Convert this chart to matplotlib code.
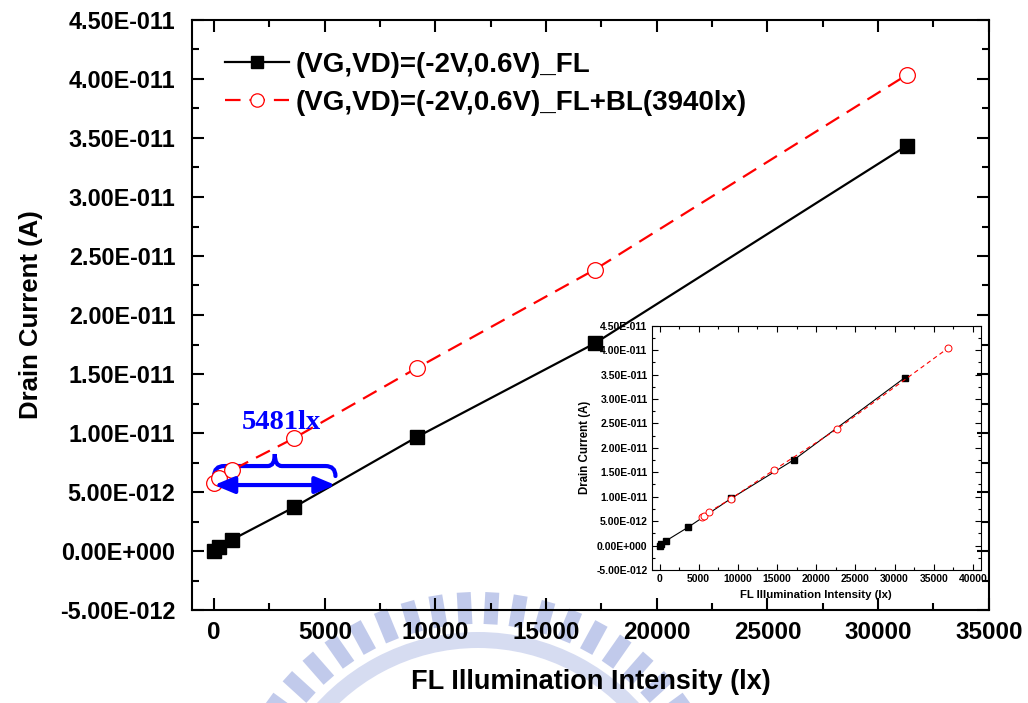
import numpy as np
import matplotlib
matplotlib.use("Agg")
import matplotlib.pyplot as plt
from matplotlib.path import Path
from matplotlib.patches import PathPatch, Polygon, Wedge
from matplotlib.ticker import MultipleLocator, FuncFormatter
from matplotlib.transforms import Affine2D

plt.rcParams["font.family"] = ["Liberation Sans", "DejaVu Sans"]
plt.rcParams["font.weight"] = "bold"
plt.rcParams["axes.labelweight"] = "bold"

# FL illumination intensity (lx) and drain current (A)
fl_lux = [0, 200, 800, 3600, 9150, 17200, 31300]
current_fl = [0.0, 0.35e-12, 0.95e-12, 3.7e-12, 9.65e-12, 17.6e-12, 34.35e-12]
current_fl_bl = [5.8e-12, 6.15e-12, 6.85e-12, 9.55e-12, 15.5e-12, 23.85e-12, 40.35e-12]

# backlight offset expressed as equivalent FL intensity
bl_shift = 5481

label_fl = "(VG,VD)=(-2V,0.6V)_FL"
label_fl_bl = "(VG,VD)=(-2V,0.6V)_FL+BL(3940lx)"
shift_text = "5481lx"

W, H = 1028, 703


def px_rect(left, top, right, bottom):
    return [left / W, 1 - bottom / H, (right - left) / W, (bottom - top) / H]


def sci_fmt(v, pos):
    if abs(v) < 1e-20:
        return "0.00E+000"
    e = int(np.floor(np.log10(abs(v)) + 1e-9))
    m = v / 10.0 ** e
    sign = "+" if e >= 0 else "-"
    return f"{m:.2f}E{sign}{abs(e):03d}"


fig = plt.figure(figsize=(W / 100, H / 100), dpi=100)

# faint logo in the background, drawn in pixel coordinates
px = Affine2D().scale(1 / W, -1 / H).translate(0, 1) + fig.transFigure
logo_color = (0.60, 0.66, 0.87)
cx, cy = 478, 850
fig.patches.append(Wedge((cx, cy), 218, -146, -34, width=16, transform=px,
                         facecolor=logo_color, edgecolor="none", alpha=0.4, zorder=-1))
for a in np.radians(np.linspace(36, 144, 18)):
    u = np.array([np.cos(a), -np.sin(a)])
    v = np.array([np.sin(a), np.cos(a)])
    c = np.array([cx, cy])
    corners = [c + 226 * u - 7 * v, c + 258 * u - 7 * v, c + 258 * u + 7 * v, c + 226 * u + 7 * v]
    fig.patches.append(Polygon(corners, closed=True, transform=px, facecolor=logo_color,
                               edgecolor="none", alpha=0.6, zorder=-1))

# inset: BL curve shifted by the equivalent intensity
ins = fig.add_axes(px_rect(651.7, 325.7, 980.7, 570))
ins.plot(fl_lux, current_fl, color="black", lw=0.8, marker="s", ms=4.2)
ins.plot(np.array(fl_lux) + bl_shift, current_fl_bl, color="red", lw=0.8, ls=(0, (4, 3)),
         marker="o", ms=5, mfc="white", mec="red", mew=0.7)
ins.set_xlim(-1000, 41000)
ins.set_ylim(-5e-12, 4.5e-11)
ins.xaxis.set_major_locator(MultipleLocator(5000))
ins.xaxis.set_minor_locator(MultipleLocator(2500))
ins.yaxis.set_major_locator(MultipleLocator(5e-12))
ins.yaxis.set_minor_locator(MultipleLocator(2.5e-12))
ins.yaxis.set_major_formatter(FuncFormatter(sci_fmt))
ins.tick_params(which="both", direction="in", top=True, right=True, width=0.8, labelsize=7.5, pad=3)
ins.tick_params(which="major", length=4)
ins.tick_params(which="minor", length=2.5)
for s in ins.spines.values():
    s.set_linewidth(0.8)
ins.set_xlabel("FL Illumination Intensity (lx)", fontsize=8.2, labelpad=4)
ins.set_ylabel("Drain Current (A)", fontsize=8.3, labelpad=4)

# main plot on top, transparent so the inset shows through
ax = fig.add_axes(px_rect(192, 20, 988.8, 610))
ax.patch.set_visible(False)
ax.plot(fl_lux, current_fl, color="black", lw=1.6, marker="s", ms=10, label=label_fl)
ax.plot(fl_lux, current_fl_bl, color="red", lw=1.6, ls=(0, (7, 4)), marker="o", ms=11.3,
        mfc="white", mec="red", mew=0.9, label=label_fl_bl)
ax.set_xlim(-1000, 35000)
ax.set_ylim(-5e-12, 4.5e-11)
ax.xaxis.set_major_locator(MultipleLocator(5000))
ax.xaxis.set_minor_locator(MultipleLocator(2500))
ax.yaxis.set_major_locator(MultipleLocator(5e-12))
ax.yaxis.set_minor_locator(MultipleLocator(2.5e-12))
ax.yaxis.set_major_formatter(FuncFormatter(sci_fmt))
ax.tick_params(which="both", direction="in", top=True, right=True, width=1.5)
ax.tick_params(which="major", length=8.4)
ax.tick_params(which="minor", length=4.8)
ax.tick_params(axis="x", labelsize=17.5, pad=8)
ax.tick_params(axis="y", labelsize=16.8, pad=12)
for s in ax.spines.values():
    s.set_linewidth(1.5)
ax.set_xlabel("FL Illumination Intensity (lx)", fontsize=19.5, labelpad=18)
ax.set_ylabel("Drain Current (A)", fontsize=18.5, labelpad=12)

ax.legend(loc="upper left", bbox_to_anchor=(0.041, 0.946), frameon=False, fontsize=20,
          borderpad=0, borderaxespad=0, handlelength=2.3, handletextpad=0.25,
          labelspacing=0.43, markerscale=0.85)

# brace and double arrow marking the equivalent intensity
lx_px = 5000 / 110.7
a_px = 5e-12 / 59
x0, x1 = 0, bl_shift
xm = (x0 + x1) / 2
yb = 7.2e-12
ye = yb - 10 * a_px
yc = yb + 12 * a_px
r = 10 * lx_px
c = 7 * lx_px
verts = [(x0, ye), (x0, yb), (x0 + r, yb), (xm - c, yb), (xm, yb), (xm, yc),
         (xm, yb), (xm + c, yb), (x1 - r, yb), (x1, yb), (x1, ye)]
codes = [Path.MOVETO, Path.CURVE3, Path.CURVE3, Path.LINETO, Path.CURVE3, Path.CURVE3,
         Path.CURVE3, Path.CURVE3, Path.LINETO, Path.CURVE3, Path.CURVE3]
ax.add_patch(PathPatch(Path(verts, codes), fill=False, edgecolor="blue", lw=3, capstyle="round"))

ya = 5.59e-12
ax.annotate("", xy=(x1, ya), xytext=(x0, ya),
            arrowprops=dict(arrowstyle="<|-|>,head_length=0.6,head_width=0.25", color="blue",
                            lw=3, shrinkA=0, shrinkB=0, mutation_scale=20))
ax.text(xm + 300, 10.34e-12, shift_text, color="blue", fontsize=20.5, fontweight="bold",
        family=["Liberation Serif", "DejaVu Serif"], ha="center", va="baseline")

fig.savefig("out.png", dpi=100)
